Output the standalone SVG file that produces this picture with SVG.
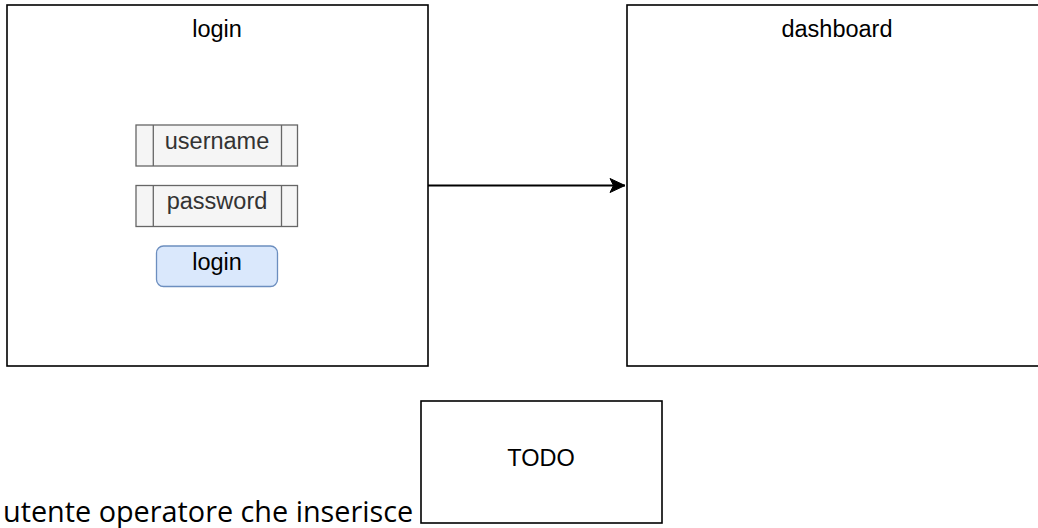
<svg xmlns="http://www.w3.org/2000/svg" width="1038" height="528" viewBox="0 0 1038 528">
<style>
.frame{fill:#ffffff;stroke:#000000;stroke-width:1.6}
.field{fill:#f5f5f5;stroke:#666666;stroke-width:1.3}
.btn{fill:#dae8fc;stroke:#6c8ebf;stroke-width:1.3}
.t{font-family:"Liberation Sans",Arial,sans-serif;font-size:23.5px;text-anchor:middle;fill:#000000}
.ft{font-family:"Liberation Sans",Arial,sans-serif;font-size:23.5px;text-anchor:middle;fill:#333333}
.page{font-family:"Open Sans","Noto Sans",sans-serif;font-size:28.8px;fill:#000000}
.edge{fill:none;stroke:#000000;stroke-width:1.8}
</style>
<defs>
<marker id="arr" markerUnits="userSpaceOnUse" markerWidth="18" markerHeight="18" refX="16" refY="8" orient="auto">
<path d="M1,1 L16,8 L1,15 L4.5,8 Z" fill="#000000" stroke="#000000" stroke-width="1"/>
</marker>
</defs>
<g id="login-screen">
<rect class="frame" x="7" y="5" width="421" height="361"/>
<text class="t" x="217" y="37">login</text>
</g>
<g id="username-field">
<rect class="field" x="136" y="125" width="161.5" height="41"/>
<line class="field" x1="153.3" y1="125" x2="153.3" y2="166"/>
<line class="field" x1="281.5" y1="125" x2="281.5" y2="166"/>
<text class="ft" x="217" y="148.5">username</text>
</g>
<g id="password-field">
<rect class="field" x="136" y="185.5" width="161.5" height="41"/>
<line class="field" x1="153.3" y1="185.5" x2="153.3" y2="226.5"/>
<line class="field" x1="281.5" y1="185.5" x2="281.5" y2="226.5"/>
<text class="ft" x="217" y="209">password</text>
</g>
<g id="login-button">
<rect class="btn" x="156.5" y="246" width="121" height="40.5" rx="7" ry="7"/>
<text class="t" x="217" y="269.5">login</text>
</g>
<g id="dashboard">
<rect class="frame" x="627" y="5" width="421" height="361"/>
<text class="t" x="837" y="37">dashboard</text>
</g>
<g id="todo">
<rect class="frame" x="421" y="401" width="241" height="122"/>
<text class="t" x="541" y="466">TODO</text>
</g>
<g id="caption">
<text class="page" x="3" y="522">utente operatore che inserisce</text>
</g>
<g id="connectors">
<path class="edge" d="M428,185.5 L625,185.5" marker-end="url(#arr)"/>
</g>
</svg>
